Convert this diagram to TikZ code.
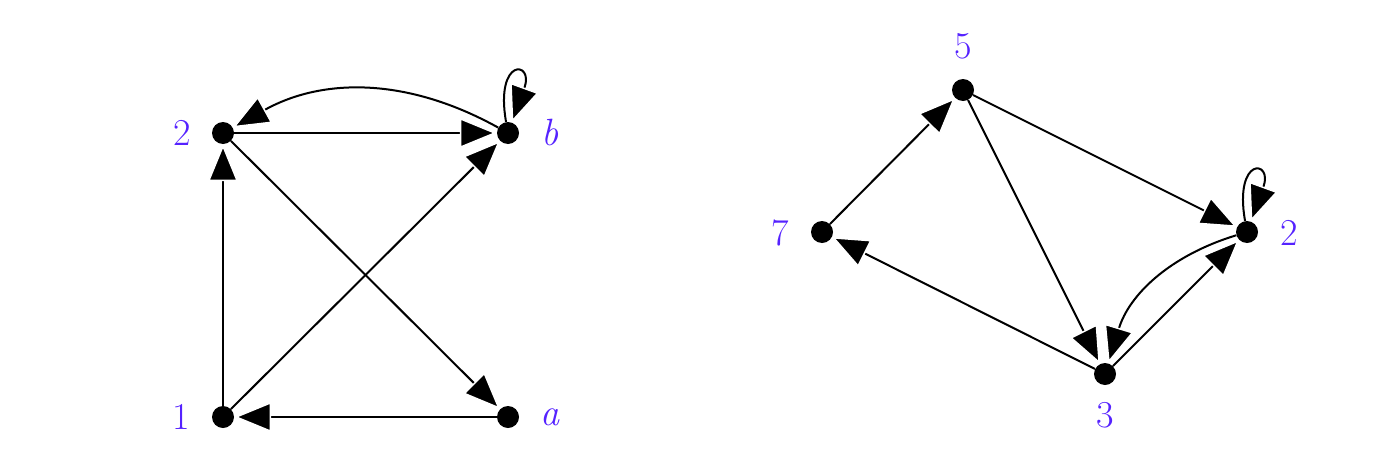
\documentclass[tikz,border=0pt]{standalone}
\usepackage{fontspec}
\usetikzlibrary{arrows.meta}
\definecolor{lbl}{RGB}{85,34,255}
\begin{document}
\begin{tikzpicture}[x=1pt,y=-1pt,
  vtx/.style={circle,fill=black,inner sep=0pt,minimum size=22pt},
  lab/.style={text=lbl,inner sep=0pt,font=\fontsize{38}{40}\selectfont},
  arr/.style={line width=2pt,-{Triangle[length=37pt,width=30pt,fill=black,color=white,line width=1.5pt]}},
  selfloop/.style={arr,out=100,in=70,min distance=66pt,looseness=8}]
\useasboundingbox (0,0) rectangle (1373,474);
% left graph
\node[vtx] (L2) at (223,133) {};
\node[vtx] (Lb) at (508,133) {};
\node[vtx] (L1) at (223,417) {};
\node[vtx] (La) at (508,417) {};
\node[lab] (tL2) at (182,133) {2};
\node[lab] (tLb) at (550,133) {\itshape b};
\node[lab] (tL1) at (181,417) {1};
\node[lab] (tLa) at (550,417) {\itshape a};
\draw[arr] (L1) -- (L2);
\draw[arr] (L1) -- (Lb);
\draw[arr] (L2) -- (Lb);
\draw[arr] (Lb) to[bend right=29] (L2);
\draw[arr] (L2) -- (La);
\draw[arr] (La) -- (L1);
\draw[selfloop] (Lb) to (Lb);
% right graph
\node[vtx] (R5) at (963,90) {};
\node[vtx] (R7) at (822,232) {};
\node[vtx] (R2) at (1247,232) {};
\node[vtx] (R3) at (1105,374) {};
\node[lab] (tR5) at (963,46) {5};
\node[lab] (tR7) at (780,233) {7};
\node[lab] (tR2) at (1289,233) {2};
\node[lab] (tR3) at (1105,415) {3};
\draw[arr] (R7) -- (R5);
\draw[arr] (R5) -- (R2);
\draw[arr] (R5) -- (R3);
\draw[arr] (R3) -- (R7);
\draw[arr] (R3) -- (R2);
\draw[arr] (R2) to[bend right=28] (R3);
\draw[selfloop] (R2) to (R2);
\end{tikzpicture}
\end{document}
